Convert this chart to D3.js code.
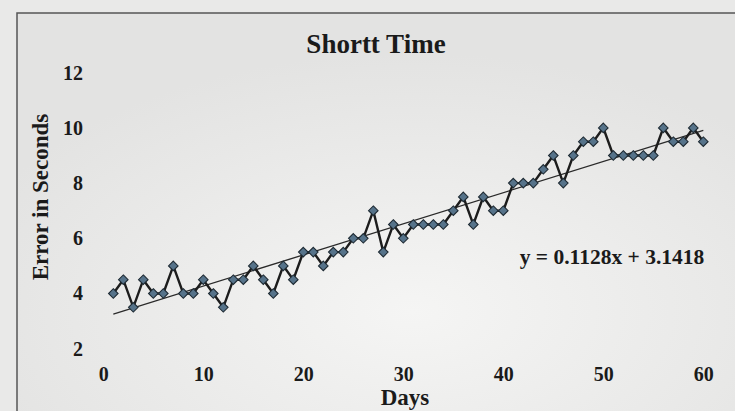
<!DOCTYPE html>
<html>
<head>
<meta charset="utf-8">
<script src="https://cdn.jsdelivr.net/npm/d3@7/dist/d3.min.js"></script>
<style>
html,body{margin:0;padding:0;background:#ebebea;}
svg{display:block;}
text{font-family:"Liberation Serif","Times New Roman",serif;font-weight:bold;fill:#1a1a1a;}
</style>
</head>
<body>
<svg id="chart" width="735" height="411"></svg>
<script>
// ---- data ----
const days = d3.range(1, 61);
const errorSeconds = [
  4, 4.5, 3.5, 4.5, 4, 4, 5, 4, 4, 4.5,
  4, 3.5, 4.5, 4.5, 5, 4.5, 4, 5, 4.5, 5.5,
  5.5, 5, 5.5, 5.5, 6, 6, 7, 5.5, 6.5, 6,
  6.5, 6.5, 6.5, 6.5, 7, 7.5, 6.5, 7.5, 7, 7,
  8, 8, 8, 8.5, 9, 8, 9, 9.5, 9.5, 10,
  9, 9, 9, 9, 9, 10, 9.5, 9.5, 10, 9.5
];
const xTicks = [0, 10, 20, 30, 40, 50, 60];
const yTicks = [2, 4, 6, 8, 10, 12];
const trendSlope = 0.1128;
const trendIntercept = 3.1418;
const titleText = "Shortt Time";
const xTitle = "Days";
const yTitle = "Error in Seconds";
const equationText = "y = 0.1128x + 3.1418";

// ---- drawing ----
const svg = d3.select("#chart");

// background & frame
svg.append("rect").attr("width", 735).attr("height", 411).attr("fill", "#e9e9e8");
const grad = svg.append("defs").append("radialGradient").attr("id", "bg")
  .attr("cx", "0.55").attr("cy", "0.75").attr("r", "0.65");
grad.append("stop").attr("offset", "0").attr("stop-color", "#f5f5f4");
grad.append("stop").attr("offset", "1").attr("stop-color", "#e3e3e2");
svg.append("rect").attr("x", 17).attr("y", 13).attr("width", 718).attr("height", 398).attr("fill", "url(#bg)");
svg.append("path").attr("d", "M17,411 V13 H735").attr("fill", "none").attr("stroke", "#555").attr("stroke-width", 1.5);

const x = d3.scaleLinear().domain([0, 60]).range([103.3, 703.3]);
const y = d3.scaleLinear().domain([2, 12]).range([348.7, 72.7]);

// axes
const xAxis = svg.append("g").attr("transform", `translate(0,${y(2)})`)
  .call(d3.axisBottom(x).tickValues(xTicks).tickSize(0).tickPadding(18));
xAxis.select(".domain").remove();
xAxis.selectAll("text").style("font-size", "20px").attr("font-family", null);

const yAxis = svg.append("g").attr("transform", "translate(91,0)")
  .call(d3.axisLeft(y).tickValues(yTicks).tickSize(0).tickPadding(8));
yAxis.select(".domain").remove();
yAxis.selectAll("text").style("font-size", "20px").attr("font-family", null);

// titles
svg.append("text").attr("x", 376).attr("y", 53).attr("text-anchor", "middle")
  .style("font-size", "27px").text(titleText);
svg.append("text").attr("x", 405).attr("y", 405).attr("text-anchor", "middle")
  .style("font-size", "23px").text(xTitle);
svg.append("text").attr("transform", "translate(48,197) rotate(-90)").attr("text-anchor", "middle")
  .style("font-size", "23px").text(yTitle);

// trend line
const trendX = [1, 60];
svg.append("line")
  .attr("x1", x(trendX[0])).attr("y1", y(trendSlope * trendX[0] + trendIntercept))
  .attr("x2", x(trendX[1])).attr("y2", y(trendSlope * trendX[1] + trendIntercept))
  .attr("stroke", "#2a2a2a").attr("stroke-width", 1.3);

// data line
const pts = days.map((d, i) => [d, errorSeconds[i]]);
svg.append("path").datum(pts)
  .attr("d", d3.line().x(d => x(d[0])).y(d => y(d[1])))
  .attr("fill", "none").attr("stroke", "#1c1c1c").attr("stroke-width", 2.4);

// markers
svg.append("g").selectAll("path").data(pts).join("path")
  .attr("transform", d => `translate(${x(d[0])},${y(d[1])})`)
  .attr("d", d3.symbol().type(d3.symbolDiamond2).size(58))
  .attr("fill", "#56738a").attr("stroke", "#1e2a33").attr("stroke-width", 1.1);

// equation
svg.append("text").attr("x", 612).attr("y", 264).attr("text-anchor", "middle")
  .style("font-size", "21.5px").text(equationText);
</script>
</body>
</html>
